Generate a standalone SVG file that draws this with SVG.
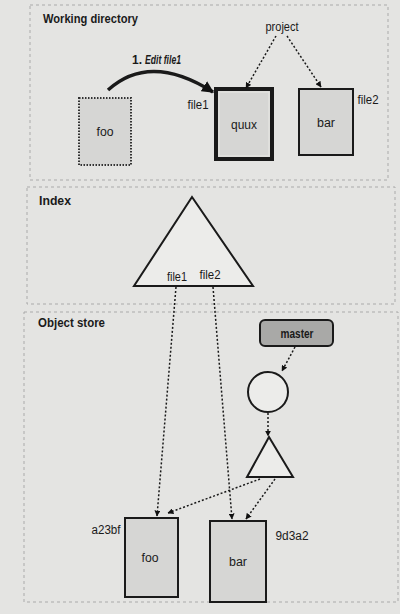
<svg xmlns="http://www.w3.org/2000/svg" width="400" height="614" viewBox="0 0 400 614">
<defs>
<marker id="ah" viewBox="0 0 10 10" refX="9" refY="5" markerWidth="6" markerHeight="6" orient="auto" markerUnits="userSpaceOnUse">
<path d="M0,0 L10,5 L0,10 z" fill="#111"/>
</marker>
<marker id="ah2" viewBox="0 0 10 10" refX="9" refY="5" markerWidth="12" markerHeight="12" orient="auto" markerUnits="userSpaceOnUse">
<path d="M0,0 L10,5 L0,10 z" fill="#111"/>
</marker>
</defs>
<style>
.panel{fill:none;stroke:#aaa;stroke-width:1;stroke-dasharray:3,3}
.title{font-family:"Liberation Sans",Arial,sans-serif;font-weight:bold;font-size:13px;fill:#1a1a1a}
.lbl{font-family:"Liberation Sans",Arial,sans-serif;font-size:12px;fill:#1a1a1a}
.box{fill:#d6d6d4;stroke:#1a1a1a;stroke-width:2}
.dot{fill:none;stroke:#1a1a1a;stroke-width:1.5;stroke-dasharray:2,2}
.shape{fill:#ececea;stroke:#1a1a1a;stroke-width:2}
</style>
<rect width="400" height="614" fill="#e4e4e2"/>

<g id="working-directory">
<rect class="panel" x="30" y="5" width="358" height="175"/>
<text class="title" x="43" y="23" textLength="95" lengthAdjust="spacingAndGlyphs">Working directory</text>
</g>
<g id="index-panel">
<rect class="panel" x="27" y="187" width="368" height="117"/>
<text class="title" x="39" y="205" textLength="32" lengthAdjust="spacingAndGlyphs">Index</text>
</g>
<g id="object-store">
<rect class="panel" x="24" y="312" width="374" height="290"/>
<text class="title" x="38" y="327" textLength="67" lengthAdjust="spacingAndGlyphs">Object store</text>
</g>

<g id="wd-foo">
<rect x="79" y="98" width="52" height="67" fill="#d6d6d4" stroke="#333" stroke-width="2" stroke-dasharray="1.5,1.5"/>
<text class="lbl" x="105" y="136" text-anchor="middle" fill="#555" textLength="17" lengthAdjust="spacingAndGlyphs">foo</text>
</g>
<g id="wd-quux">
<rect x="216" y="89" width="56" height="70" fill="#d6d6d4" stroke="#1a1a1a" stroke-width="4"/>
<rect x="219" y="92" width="50" height="64" fill="none" stroke="#e4e4e2" stroke-width="1.2"/>
<text class="lbl" x="244" y="129" text-anchor="middle" textLength="26" lengthAdjust="spacingAndGlyphs">quux</text>
<text class="lbl" x="198" y="109" text-anchor="middle" textLength="21" lengthAdjust="spacingAndGlyphs">file1</text>
</g>
<g id="wd-bar">
<rect class="box" x="299" y="89" width="54" height="66"/>
<text class="lbl" x="326" y="127" text-anchor="middle" textLength="18" lengthAdjust="spacingAndGlyphs">bar</text>
<text class="lbl" x="368" y="104" text-anchor="middle" textLength="21" lengthAdjust="spacingAndGlyphs">file2</text>
</g>
<g id="project">
<text class="lbl" x="282" y="31" text-anchor="middle" textLength="33" lengthAdjust="spacingAndGlyphs">project</text>
</g>

<g id="index-tree">
<polygon class="shape" points="192,197 134,286 253,286"/>
<text class="lbl" x="177" y="281" text-anchor="middle" textLength="20" lengthAdjust="spacingAndGlyphs">file1</text>
<text class="lbl" x="210" y="279" text-anchor="middle" textLength="21" lengthAdjust="spacingAndGlyphs">file2</text>
</g>

<g id="master">
<rect x="260" y="320" width="73" height="26" rx="5" fill="#a9a9a7" stroke="#1a1a1a" stroke-width="2"/>
<text class="lbl" x="297" y="338" text-anchor="middle" font-weight="bold" textLength="33" lengthAdjust="spacingAndGlyphs">master</text>
</g>
<g id="commit">
<circle class="shape" cx="268" cy="392" r="20"/>
</g>
<g id="tree">
<polygon class="shape" points="269,437 247,477 293,477"/>
</g>
<g id="blob-foo">
<rect class="box" x="125" y="518" width="53" height="79"/>
<text class="lbl" x="150" y="562" text-anchor="middle" textLength="17" lengthAdjust="spacingAndGlyphs">foo</text>
<text class="lbl" x="106" y="534" text-anchor="middle" textLength="29" lengthAdjust="spacingAndGlyphs">a23bf</text>
</g>
<g id="blob-bar">
<rect class="box" x="210" y="521" width="56" height="81"/>
<text class="lbl" x="238" y="566" text-anchor="middle" textLength="18" lengthAdjust="spacingAndGlyphs">bar</text>
<text class="lbl" x="292" y="540" text-anchor="middle" textLength="33" lengthAdjust="spacingAndGlyphs">9d3a2</text>
</g>

<g id="connectors">
<path d="M108,90 Q150,52 213,92" fill="none" stroke="#1a1a1a" stroke-width="3.5" marker-end="url(#ah2)"/>
<text class="lbl" x="132" y="64" font-weight="bold" font-size="11">1.</text>
<text class="lbl" x="145" y="64" font-weight="bold" font-style="italic" font-size="11" textLength="36" lengthAdjust="spacingAndGlyphs">Edit file1</text>
<line class="dot" x1="276" y1="36" x2="246" y2="88" marker-end="url(#ah)"/>
<line class="dot" x1="287" y1="36" x2="321" y2="87" marker-end="url(#ah)"/>
<line class="dot" x1="176" y1="287" x2="157" y2="516" marker-end="url(#ah)"/>
<line class="dot" x1="213" y1="287" x2="232" y2="519" marker-end="url(#ah)"/>
<line class="dot" x1="295" y1="347" x2="282" y2="371" marker-end="url(#ah)"/>
<line class="dot" x1="268" y1="413" x2="268" y2="436" marker-end="url(#ah)"/>
<line class="dot" x1="260" y1="479" x2="168" y2="513" marker-end="url(#ah)"/>
<line class="dot" x1="275" y1="479" x2="246" y2="519" marker-end="url(#ah)"/>
</g>
</svg>
